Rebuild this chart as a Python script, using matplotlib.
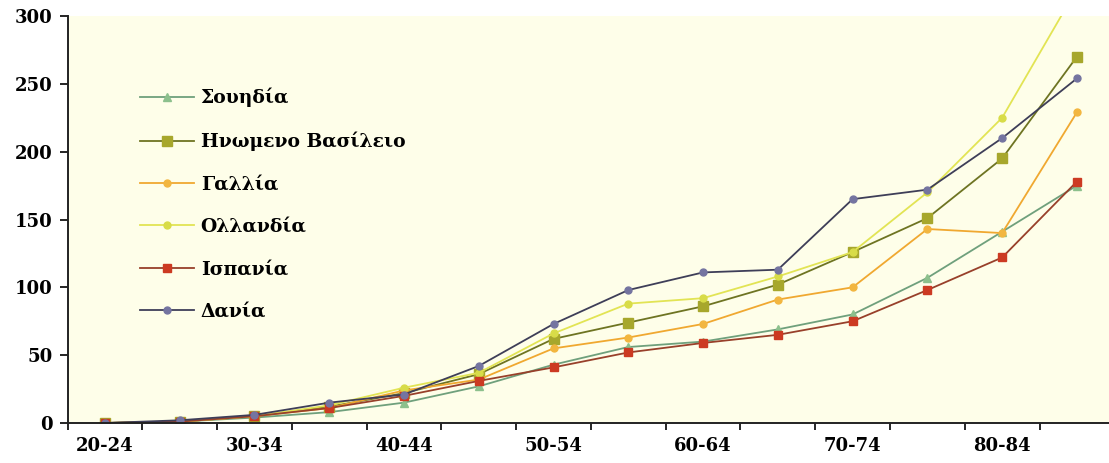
import matplotlib
matplotlib.use("Agg")
import matplotlib.pyplot as plt
from matplotlib.ticker import FixedLocator, NullFormatter

# Age groups (x categories) and tick labels shown on the axis
age_groups = ['20-24', '25-29', '30-34', '35-39', '40-44', '45-49', '50-54',
              '55-59', '60-64', '65-69', '70-74', '75-79', '80-84', '85+']
shown_labels = ['20-24', '30-34', '40-44', '50-54', '60-64', '70-74', '80-84']
y_ticks = [0, 50, 100, 150, 200, 250, 300]

# Series values per age group
sweden = [0, 1, 4, 8, 15, 27, 43, 56, 60, 69, 80, 107, 141, 175]
uk = [0, 1, 5, 12, 22, 36, 62, 74, 86, 102, 126, 151, 195, 270]
france = [0, 1, 5, 11, 24, 32, 55, 63, 73, 91, 100, 143, 140, 229]
netherlands = [0, 1, 5, 13, 26, 37, 66, 88, 92, 108, 126, 170, 225, 320]
spain = [0, 1, 5, 11, 20, 31, 41, 52, 59, 65, 75, 98, 122, 178]
denmark = [0, 2, 6, 15, 21, 42, 73, 98, 111, 113, 165, 172, 210, 254]

series = [
    ("Σουηδία", sweden, "#6fa07c", "#8cc08c", "^", 6),
    ("Ηνωμενο Βασίλειο", uk, "#6e7422", "#a7a72c", "s", 7),
    ("Γαλλία", france, "#f0a830", "#f2b640", "o", 5),
    ("Ολλανδία", netherlands, "#e2e454", "#d8dc48", "o", 5),
    ("Ισπανία", spain, "#98402a", "#cc3a22", "s", 6),
    ("Δανία", denmark, "#3e3e58", "#7474a0", "o", 5),
]

FONT = ['DejaVu Serif']
plt.rcParams['font.family'] = FONT
plt.rcParams['font.weight'] = 'bold'

fig = plt.figure(figsize=(11.09, 4.63), dpi=100, facecolor='white')
ax = fig.add_axes([0.0609, 0.0864, 0.9405, 0.879])
ax.set_facecolor('#fefee9')

x = list(range(len(age_groups)))
for name, vals, lc, mc, mk, ms in series:
    ax.plot(x, vals, color=lc, linewidth=1.3, marker=mk, markersize=ms,
            markerfacecolor=mc, markeredgecolor=mc, label=name)

ax.set_ylim(0, 300)
ax.set_xlim(-0.5, 13.45)

ax.set_yticks(y_ticks)
ax.set_yticklabels([str(v) for v in y_ticks], fontsize=13, fontweight='bold')

# Category boundaries get tick marks; labels sit on every other category
ax.xaxis.set_major_locator(FixedLocator([i - 0.5 for i in range(len(age_groups) + 1)]))
ax.xaxis.set_major_formatter(NullFormatter())
label_pos = [age_groups.index(l) for l in shown_labels]
ax.set_xticks(label_pos, minor=True)
ax.set_xticklabels(shown_labels, minor=True, fontsize=13, fontweight='bold')
ax.tick_params(axis='x', which='minor', length=0, pad=10)
ax.tick_params(axis='x', which='major', length=5, width=1.2, direction='out')
ax.tick_params(axis='y', length=6, width=1.2, direction='out', pad=5)

for s in ['top', 'right']:
    ax.spines[s].set_visible(False)
for s in ['left', 'bottom']:
    ax.spines[s].set_linewidth(1.4)
    ax.spines[s].set_color('#222222')

leg = ax.legend(loc='upper left', bbox_to_anchor=(0.053, 0.865), frameon=False,
                prop={'family': FONT, 'weight': 'bold', 'size': 13.5},
                handlelength=2.9, labelspacing=1.3, handletextpad=0.35)

fig.savefig('out.png', dpi=100, facecolor='white')
